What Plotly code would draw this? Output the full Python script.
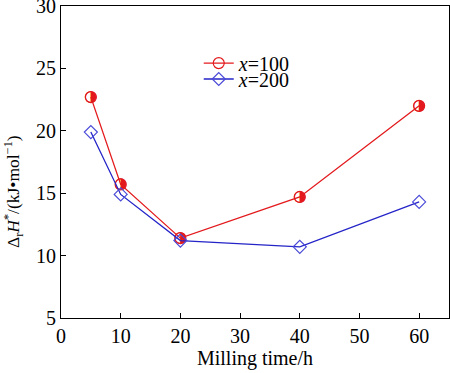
import plotly.graph_objects as go

milling_time = [5, 10, 20, 40, 60]
dH_x100 = [22.7, 15.7, 11.4, 14.7, 22.0]
dH_x200 = [19.9, 14.9, 11.2, 10.7, 14.3]
x_ticks = [0, 10, 20, 30, 40, 50, 60]
y_ticks = [5, 10, 15, 20, 25, 30]

RED = "#e3191c"
BLUE = "#2424c8"
FONT = "Liberation Serif, Times New Roman, serif"

fig = go.Figure()
fig.add_trace(go.Scatter(
    x=milling_time, y=dH_x100, mode="lines+markers", name="<i>x</i>=100",
    line=dict(color=RED, width=1.3), legend="legend",
    marker=dict(symbol="circle-open", size=11, color=RED, line=dict(width=1.2)),
))
fig.add_trace(go.Scatter(
    x=milling_time, y=dH_x100, mode="text", text=["\u25D1"] * len(milling_time),
    textfont=dict(family="DejaVu Sans", size=15, color=RED),
    textposition="middle center", showlegend=False, hoverinfo="skip",
))
fig.add_trace(go.Scatter(
    x=milling_time, y=dH_x200, mode="lines+markers", name="<i>x</i>=200",
    line=dict(color=BLUE, width=1.3), legend="legend2",
    marker=dict(symbol="diamond-open", size=10, color="#4a4ad8", line=dict(width=1.2)),
))

leg_common = dict(x=0.355, xanchor="left", yanchor="middle",
                  bgcolor="rgba(0,0,0,0)", font=dict(size=20), itemwidth=30)

fig.update_layout(
    width=450, height=373,
    margin=dict(l=61, r=1, t=6, b=55),
    paper_bgcolor="white", plot_bgcolor="white",
    font=dict(family=FONT, size=20, color="black"),
    showlegend=True,
    legend=dict(y=0.817, **leg_common),
    legend2=dict(y=0.766, **leg_common),
    xaxis=dict(range=[0, 65], tickvals=x_ticks, ticks="inside", ticklen=5,
               tickcolor="black", showline=True, linecolor="black", linewidth=1,
               mirror=True, showgrid=False, zeroline=False, automargin=False,
               ticklabeloverflow="allow",
               title=dict(text="Milling time/h", standoff=4, font=dict(size=20)),
               tickfont=dict(size=20)),
    yaxis=dict(range=[5, 30], tickvals=y_ticks, ticks="inside", ticklen=5,
               tickcolor="black", showline=True, linecolor="black", linewidth=1,
               mirror=True, showgrid=False, zeroline=False, automargin=False,
               ticklabeloverflow="allow",
               tickfont=dict(size=20)),
    annotations=[dict(
        text="\u0394<sub>r</sub><i>H</i><sup>*</sup>/(kJ\u2022mol<sup>\u22121</sup>)",
        xref="paper", yref="paper", x=-0.121, y=0.404, textangle=-90,
        showarrow=False, font=dict(size=17.5), xanchor="center", yanchor="middle",
    )],
)

fig.write_html("out.html", post_script="document.body.style.margin='0';",
               config={"displayModeBar": False})
